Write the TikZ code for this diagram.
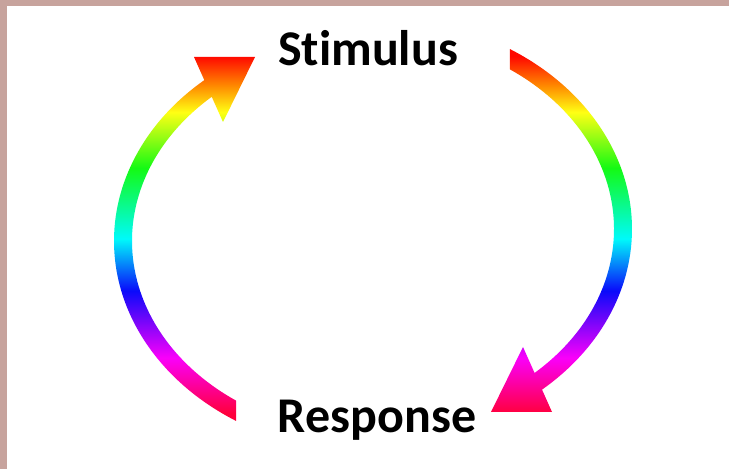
\documentclass[tikz,border=0pt]{standalone}
\usepackage{fontspec}
\setmainfont{Carlito}[Ligatures=NoCommon]

\definecolor{frame pink}{RGB}{199,163,157}
\definecolor{hue red}{RGB}{255,8,0}
\definecolor{hue orange}{RGB}{255,140,0}
\definecolor{hue yellow}{RGB}{255,255,20}
\definecolor{hue green}{RGB}{20,250,20}
\definecolor{hue cyan}{RGB}{0,250,250}
\definecolor{hue blue}{RGB}{10,10,250}
\definecolor{hue magenta}{RGB}{250,0,250}
\definecolor{hue rose}{RGB}{255,0,60}

% rainbow from bottom (rose) to top (red), 25bp..75bp covers the arcs
\pgfdeclareverticalshading{huebar}{100bp}{color(0bp)=(hue rose); color(26bp)=(hue rose);
  color(33.5bp)=(hue magenta); color(42.5bp)=(hue blue); color(49.5bp)=(hue cyan);
  color(59bp)=(hue green); color(66.5bp)=(hue yellow); color(70bp)=(hue orange);
  color(74bp)=(hue red); color(100bp)=(hue red)}

\begin{document}
\begin{tikzpicture}[x=1pt,y=1pt,
                    word/.style={font=\bfseries\fontsize{50}{60}\selectfont,inner sep=0pt,anchor=base},
                    band/.style={shading=huebar}]

      % Define frame
      \useasboundingbox (0,0) rectangle (729,469);
      \fill[white] (0,0) rectangle (729,469);
      \fill[frame pink] (0,0) rectangle (7,469);
      \fill[frame pink] (0,463) rectangle (729,469);

      % Define vertices
      \node[word] (stim) at (368,403) {Stimulus};
      \node[word] (resp) at (377,36) {Response};

      % Define arc centres and arrow tips
      \coordinate (lc) at (373,228);
      \coordinate (rc) at (373,240);
      \coordinate (stim tip) at (255,412);
      \coordinate (resp tip) at (491,57);

      % Rainbow arcs with heads
      \begin{scope}
        \clip ([shift={(238.1:259pt and 212pt)}]lc)
              arc[start angle=238.1,end angle=129,x radius=259pt,y radius=212pt]
              -- ([shift={(129:241pt and 194pt)}]lc)
              arc[start angle=129,end angle=235.4,x radius=241pt,y radius=194pt] -- cycle
              (stim tip) -- ++(-32,-65) -- ++(-29,65) -- cycle
              ([shift={(58.1:259pt and 212pt)}]rc)
              arc[start angle=58.1,end angle=-51,x radius=259pt,y radius=212pt]
              -- ([shift={(-51:241pt and 194pt)}]rc)
              arc[start angle=-51,end angle=55.4,x radius=241pt,y radius=194pt] -- cycle
              (resp tip) -- ++(32,65) -- ++(29,-65) -- cycle;
        \shade[band] (0,48) rectangle (729,420);
      \end{scope}

    \end{tikzpicture}
\end{document}
